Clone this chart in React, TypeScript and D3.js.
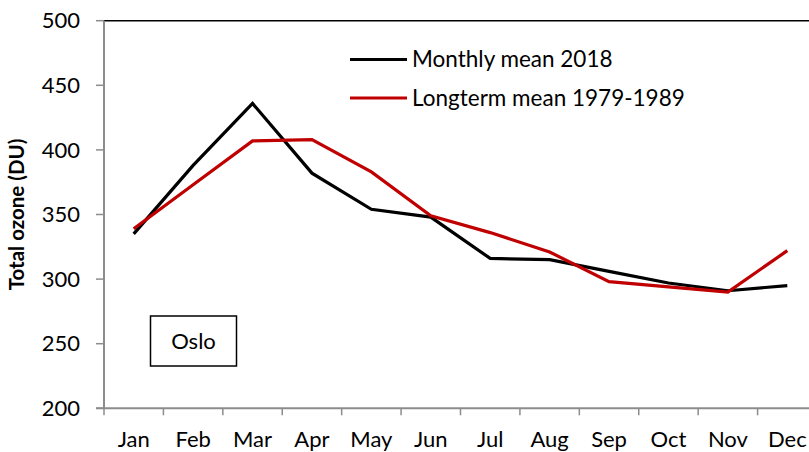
import React from "react";
import * as d3 from "d3";

const months = ["Jan", "Feb", "Mar", "Apr", "May", "Jun", "Jul", "Aug", "Sep", "Oct", "Nov", "Dec"];
const monthly2018 = [335, 388, 436, 382, 354, 348, 316, 315, 306, 297, 291, 295];
const longterm = [339, 373, 407, 408, 383, 349, 336, 321, 298, 294, 290, 322];
const yTicks = [200, 250, 300, 350, 400, 450, 500];
const seriesNames = ["Monthly mean 2018", "Longterm mean 1979-1989"];
const stationName = "Oslo";

const W = 809;
const H = 452;
const left = 104;
const right = 817;
const top = 20.7;
const bottom = 408.3;
const FONT = "Lato, 'Open Sans', sans-serif";

export default function App() {
  const x = d3.scaleBand<string>().domain(months).range([left, right]);
  const y = d3.scaleLinear().domain([200, 500]).range([bottom, top]);
  const cx = (m: string) => (x(m) as number) + x.bandwidth() / 2;
  const line = d3
    .line<number>()
    .x((_, i) => cx(months[i]))
    .y((d) => y(d));
  const grid = "#8c8c8c";
  return (
    <svg width={W} height={H} style={{ position: "absolute", left: 0, top: 0, background: "#fff" }}>
      <rect x={0} y={0} width={W} height={H} fill="#fff" />
      {/* top border */}
      <line x1={left} x2={W} y1={y(500)} y2={y(500)} stroke="#000" strokeWidth={1.5} />
      {/* y axis */}
      <line x1={left} x2={left} y1={y(500)} y2={bottom} stroke={grid} strokeWidth={2} />
      {yTicks.map((t) => (
        <g key={t}>
          <line x1={left - 8} x2={left} y1={y(t)} y2={y(t)} stroke={grid} strokeWidth={1.5} />
          <text x={80} y={y(t)} dy="0.35em" textAnchor="end" fontFamily={FONT} fontSize={22} fill="#000">
            {t}
          </text>
        </g>
      ))}
      {/* x axis */}
      <line x1={left - 8} x2={W} y1={bottom} y2={bottom} stroke={grid} strokeWidth={2} />
      {months.map((m) => (
        <g key={m}>
          <line x1={x(m) as number} x2={x(m) as number} y1={bottom} y2={bottom + 7} stroke={grid} strokeWidth={1.5} />
          <text x={cx(m)} y={447} textAnchor="middle" fontFamily={FONT} fontSize={22} fill="#000">
            {m}
          </text>
        </g>
      ))}
      <text
        transform={`translate(24, ${(top + bottom) / 2}) rotate(-90)`}
        textAnchor="middle"
        fontFamily={FONT}
        fontWeight="bold"
        fontSize={20.5}
        fill="#000"
      >
        Total ozone (DU)
      </text>
      {/* lines */}
      <path d={line(monthly2018) as string} fill="none" stroke="#000" strokeWidth={3.2} strokeLinejoin="miter" />
      <path d={line(longterm) as string} fill="none" stroke="#c00000" strokeWidth={3.2} strokeLinejoin="miter" />
      {/* legend */}
      {seriesNames.map((s, i) => (
        <g key={s}>
          <line x1={350} x2={407} y1={59.5 + i * 38.5} y2={59.5 + i * 38.5} stroke={i === 0 ? "#000" : "#c00000"} strokeWidth={3.2} />
          <text x={412} y={59.5 + i * 38.5} dy="0.35em" fontFamily={FONT} fontSize={22.5} fill="#000">
            {s}
          </text>
        </g>
      ))}
      {/* station box */}
      <rect x={150.5} y={316} width={86} height={50} fill="#fff" stroke="#000" strokeWidth={1.5} />
      <text x={193.5} y={341} dy="0.35em" textAnchor="middle" fontFamily={FONT} fontSize={22} fill="#000">
        {stationName}
      </text>
    </svg>
  );
}
